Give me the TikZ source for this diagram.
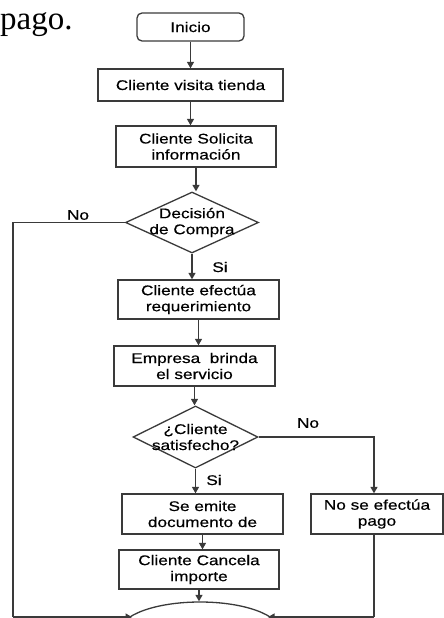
\documentclass[tikz,border=0pt]{standalone}
\usepackage{fontspec}
\usetikzlibrary{arrows.meta,shapes.geometric}
\newfontfamily\flowfont[FakeStretch=1.23,FakeBold=0.4]{Liberation Sans}
\newfontfamily\bodyserif{Liberation Serif}
\definecolor{linegray}{HTML}{3A3A3A}
\tikzset{
  box/.style={draw=linegray, line width=1.3pt, rectangle, inner sep=0pt, align=center,
    font=\flowfont\fontsize{14}{16}\selectfont},
  term/.style={box, rounded corners=5pt},
  dec/.style={draw=linegray, line width=1.3pt, diamond, inner sep=0pt},
  dectext/.style={inner sep=0pt, align=center, font=\flowfont\fontsize{14}{16}\selectfont},
  lbl/.style={inner sep=0pt, font=\flowfont\fontsize{14}{16}\selectfont},
  conn/.style={draw=linegray, line width=1.3pt},
  arr/.style={conn, -{Triangle[width=7pt,length=6.5pt]}},
}
\begin{document}
\begin{tikzpicture}[x=1pt,y=-1pt]
\useasboundingbox (0,0) rectangle (444,618);
\clip (0,0) rectangle (444,618);
% heading fragment
\node[inner sep=0pt, anchor=base west, font=\bodyserif\fontsize{33}{36}\selectfont] (pago) at (0,30) {pago.};
% nodes
\node[term, minimum width=107pt, minimum height=28pt] (inicio) at (190.5,27) {Inicio};
\node[box, minimum width=185pt, minimum height=32pt] (visita) at (190.5,85) {Cliente visita tienda};
\node[box, minimum width=160pt, minimum height=41pt] (solicita) at (196,146.5) {Cliente Solicita\\información};
\node[dec, minimum width=133pt, minimum height=61pt] (dec1) at (192,222.5) {};
\node[dectext] (dec1t) at (192,222.5) {Decisión\\de Compra};
\node[box, minimum width=161pt, minimum height=39pt] (efectua) at (198.5,299.5) {Cliente efectúa\\requerimiento};
\node[box, minimum width=161pt, minimum height=40pt] (empresa) at (194.5,366) {Empresa~ brinda\\el servicio};
\node[dec, minimum width=125pt, minimum height=62pt] (dec2) at (195.5,437) {};
\node[dectext] (dec2t) at (195.5,437) {¿Cliente\\satisfecho?};
\node[box, minimum width=161pt, minimum height=40pt] (emite) at (202.5,514) {Se emite\\documento de};
\node[box, minimum width=132pt, minimum height=40pt] (nopago) at (377,514) {No se efectúa\\pago};
\node[box, minimum width=160pt, minimum height=39pt] (cancela) at (199,569.5) {Cliente Cancela\\importe};
\node[draw=linegray, line width=1.3pt, ellipse, minimum width=160pt, minimum height=58pt, inner sep=0pt] (fin) at (200,631) {};
% labels
\node[lbl] (no1) at (78,215) {No};
\node[lbl] (si1) at (220,267) {Si};
\node[lbl] (no2) at (308,423) {No};
\node[lbl] (si2) at (214,480) {Si};
% helper coordinates
\coordinate (lc1) at (13,222.5);
\coordinate (lc2) at (13,617);
\coordinate (rc1) at (374,437);
\coordinate (rc2) at (374,617);
\coordinate (finl) at (132,617);
\coordinate (finr) at (268,617);
% connectors
\draw[arr] (inicio.south) -- (visita.north);
\draw[arr] (visita.south) -- (visita.south |- solicita.north);
\draw[arr] (solicita.south) -- (solicita.south |- dec1.north);
\draw[arr] (dec1.south) -- (dec1.south |- efectua.north);
\draw[arr] (efectua.south) -- (efectua.south |- empresa.north);
\draw[arr] (empresa.south) -- (empresa.south |- dec2.north);
\draw[arr] (dec2.south) -- (dec2.south |- emite.north);
\draw[arr] (emite.south) -- (emite.south |- cancela.north);
\draw[arr] (cancela.south) -- (cancela.south |- fin.north);
\draw[conn] (dec1.west) -- (lc1) -- (lc2);
\draw[arr] (lc2) -- (finl);
\draw[arr] (dec2.east) -- (rc1) -- (rc1 |- nopago.north);
\draw[conn] (nopago.south -| rc1) -- (rc2);
\draw[arr] (rc2) -- (finr);
\end{tikzpicture}
\end{document}
